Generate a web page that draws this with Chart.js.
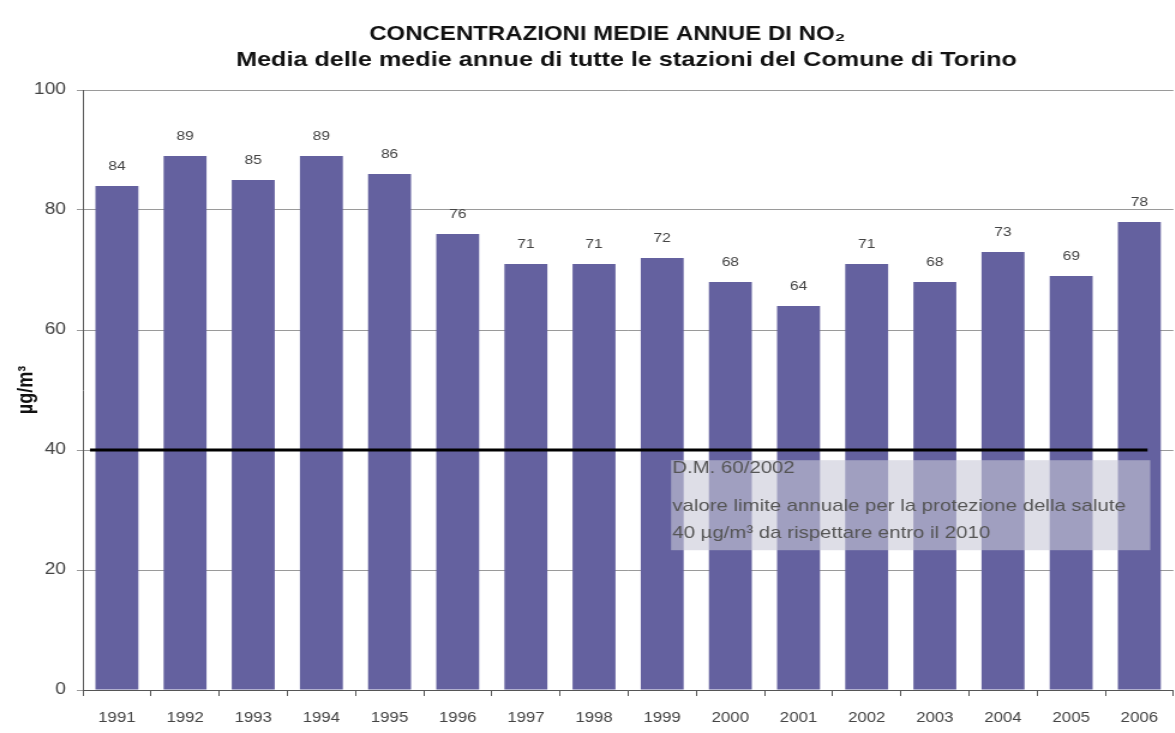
<!DOCTYPE html>
<html>
<head>
<meta charset="utf-8">
<script src="https://cdn.jsdelivr.net/npm/chart.js@4/dist/chart.umd.min.js"></script>
<style>
  html, body { margin: 0; padding: 0; background: #fff; overflow: hidden; }
  /* il grafico è disegnato più stretto e poi allargato in orizzontale */
  #wrap { width: 979px; height: 733px; position: relative; transform: scaleX(1.2); transform-origin: 0 0; }
</style>
</head>
<body>
<div id="wrap"><canvas id="grafico"></canvas></div>
<script>
// anni e medie annue di NO2 (µg/m³)
const anni = ["1991", "1992", "1993", "1994", "1995", "1996", "1997", "1998",
              "1999", "2000", "2001", "2002", "2003", "2004", "2005", "2006"];
const medie = [84, 89, 85, 89, 86, 76, 71, 71, 72, 68, 64, 71, 68, 73, 69, 78];
const tickY = [0, 20, 40, 60, 80, 100];
const limite = 40;
const titolo = "CONCENTRAZIONI MEDIE ANNUE DI NO₂";
const sottotitolo = "Media delle medie annue di tutte le stazioni del Comune di Torino";
const notaLimite = [
  "D.M. 60/2002",
  "valore limite annuale per la protezione della salute",
  "40 µg/m³ da rispettare entro il 2010"
];

const coloreBarre = "#64619f";
const font = "Liberation Sans, Arial, sans-serif";

// titoli, etichette dei valori, linea del limite e riquadro di nota
const extra = {
  id: "extra",
  afterDraw(chart) {
    const ctx = chart.ctx;
    ctx.save();
    ctx.fillStyle = "#111";
    ctx.textAlign = "center";
    ctx.textBaseline = "alphabetic";
    ctx.font = "bold 20px " + font;
    ctx.fillText(titolo, 506, 40);
    ctx.font = "bold 21px " + font;
    ctx.fillText(sottotitolo, 522, 66);
    ctx.restore();
  },
  afterDatasetsDraw(chart) {
    const ctx = chart.ctx;
    const x = chart.scales.x, y = chart.scales.y;
    const meta = chart.getDatasetMeta(0);

    ctx.save();
    ctx.font = "13px " + font;
    ctx.fillStyle = "#444";
    ctx.textAlign = "center";
    ctx.textBaseline = "middle";
    meta.data.forEach((bar, i) => {
      ctx.fillText(String(medie[i]), bar.x, bar.y - 20);
    });

    // linea del valore limite
    const yl = y.getPixelForValue(limite);
    ctx.strokeStyle = "#000";
    ctx.lineWidth = 3;
    ctx.beginPath();
    ctx.moveTo(chart.chartArea.left + 6, yl);
    ctx.lineTo(x.getPixelForValue(15.12), yl);
    ctx.stroke();

    // riquadro semitrasparente con la nota
    const bx0 = x.getPixelForValue(8.13), bx1 = x.getPixelForValue(15.16);
    const by0 = y.getPixelForValue(38.3), by1 = y.getPixelForValue(23.3);
    ctx.fillStyle = "rgba(200,200,215,0.6)";
    ctx.fillRect(bx0, by0, bx1 - bx0, by1 - by0);

    ctx.fillStyle = "#555";
    ctx.textAlign = "left";
    ctx.textBaseline = "middle";
    ctx.font = "17px " + font;
    ctx.fillText(notaLimite[0], bx0 + 1, by0 + 8);
    ctx.fillText(notaLimite[1], bx0 + 1, by0 + 46);
    ctx.fillText(notaLimite[2], bx0 + 1, by0 + 73);
    ctx.restore();
  }
};

new Chart(document.getElementById("grafico"), {
  type: "bar",
  data: {
    labels: anni,
    datasets: [{
      data: medie,
      backgroundColor: coloreBarre,
      borderWidth: 0,
      barPercentage: 0.63,
      categoryPercentage: 1
    }]
  },
  options: {
    responsive: true,
    maintainAspectRatio: false,
    animation: false,
    layout: { padding: { top: 90, right: 0, bottom: 0, left: 0 } },
    plugins: {
      legend: { display: false },
      tooltip: { enabled: false }
    },
    scales: {
      x: {
        grid: {
          display: true,
          offset: true,
          drawOnChartArea: false,
          drawTicks: true,
          tickLength: 6,
          color: "#555"
        },
        border: { display: true, color: "#555", width: 1 },
        ticks: {
          color: "#444",
          font: { family: font, size: 14 },
          maxRotation: 0,
          autoSkip: false,
          padding: 14
        },
        afterFit(s) { s.height = 43; }
      },
      y: {
        min: 0,
        max: 100,
        afterBuildTicks(s) { s.ticks = tickY.map(v => ({ value: v })); },
        grid: {
          color: "#9a9a9a",
          lineWidth: 1,
          tickLength: 5,
          drawTicks: true
        },
        border: { display: true, color: "#555", width: 1 },
        ticks: {
          color: "#444",
          font: { family: font, size: 16 },
          padding: 9
        },
        title: {
          display: true,
          text: "µg/m³",
          color: "#111",
          font: { family: font, size: 18, weight: "bold" },
          padding: { top: 11, bottom: 0 }
        },
        afterFit(s) { s.width = 69; }
      }
    }
  },
  plugins: [extra]
});
</script>
</body>
</html>
